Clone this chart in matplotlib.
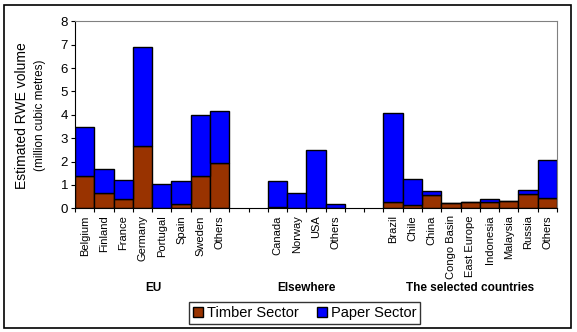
import numpy as np
import matplotlib.pyplot as plt
from matplotlib.patches import Rectangle
from matplotlib.transforms import blended_transform_factory

plt.rcParams['font.family'] = ['Liberation Sans', 'DejaVu Sans']

# RWE volume by country, million cubic metres
eu_names = ["Belgium", "Finland", "France", "Germany", "Portugal", "Spain", "Sweden", "Others"]
eu_timber = [1.40, 0.64, 0.39, 2.67, 0.0, 0.19, 1.37, 1.93]
eu_paper = [2.07, 1.03, 0.81, 4.22, 1.03, 0.97, 2.61, 2.22]

else_names = ["Canada", "Norway", "USA", "Others"]
else_timber = [0.04, 0.0, 0.0, 0.0]
else_paper = [1.12, 0.66, 2.48, 0.17]

sel_names = ["Brazil", "Chile", "China", "Congo Basin", "East Europe",
             "Indonesia", "Malaysia", "Russia", "Others"]
sel_timber = [0.27, 0.13, 0.56, 0.23, 0.27, 0.27, 0.31, 0.60, 0.43]
sel_paper = [3.80, 1.13, 0.18, 0.0, 0.0, 0.12, 0.0, 0.18, 1.62]

groups = ["EU", "Elsewhere", "The selected countries"]

# slot positions, with two empty slots between groups
x_eu = np.arange(len(eu_names))
x_else = np.arange(len(else_names)) + len(eu_names) + 2
x_sel = np.arange(len(sel_names)) + x_else[-1] + 3
xs = np.concatenate([x_eu, x_else, x_sel])
names = eu_names + else_names + sel_names
timber = np.array(eu_timber + else_timber + sel_timber)
paper = np.array(eu_paper + else_paper + sel_paper)

fig = plt.figure(figsize=(5.77, 3.32), dpi=100)
ax = fig.add_axes([0.130, 0.3726, 0.8353, 0.5632])

brown = '#993300'
blue = '#0000FF'
ax.bar(xs, timber, width=1.0, color=brown, edgecolor='black', linewidth=1.0,
       label='Timber Sector')
ax.bar(xs, paper, width=1.0, bottom=timber, color=blue, edgecolor='black',
       linewidth=1.0, label='Paper Sector')

ax.set_xlim(-0.5, xs[-1] + 0.5)
ax.set_ylim(0, 8)
ax.set_yticks(range(0, 9))
ax.tick_params(axis='y', labelsize=9.5, length=3, width=0.8, pad=2)

# boundary ticks on the x axis, labels at the bar centres
ax.set_xticks(np.arange(-0.5, xs[-1] + 1, 1.0))
ax.set_xticklabels([])
ax.tick_params(axis='x', which='major', length=3, width=0.8, direction='out')
ax.set_xticks(xs, minor=True)
ax.set_xticklabels(names, minor=True, rotation=90, fontsize=8)
ax.tick_params(axis='x', which='minor', length=0, pad=5)

for s in ['top', 'right']:
    ax.spines[s].set_color('#808080')
for s in ['left', 'bottom']:
    ax.spines[s].set_color('black')

fig.text(0.038, 0.652, 'Estimated RWE volume', rotation=90, ha='center',
         va='center', fontsize=10)
fig.text(0.070, 0.652, '(million cubic metres)', rotation=90, ha='center',
         va='center', fontsize=8.5)

trans = blended_transform_factory(ax.transData, fig.transFigure)
for gx, g in zip([3.55, 11.48, 20.0], groups):
    ax.text(gx, 1 - 288 / 332, g, transform=trans, ha='center', va='center',
            fontsize=8.5, fontweight='bold')

leg = fig.legend(loc='center', bbox_to_anchor=(0.528, 0.057), ncol=2,
                 fontsize=10.5, frameon=True, fancybox=False,
                 handlelength=0.7, handleheight=0.7, handletextpad=0.3,
                 columnspacing=1.2, borderpad=0.25)
leg.get_frame().set_edgecolor('black')
leg.get_frame().set_linewidth(1.0)

fig.patches.append(Rectangle((4 / 577, 4 / 332), 567 / 577, 323 / 332,
                             transform=fig.transFigure, fill=False,
                             edgecolor='black', linewidth=1.2))

fig.savefig('out.png', dpi=100)
